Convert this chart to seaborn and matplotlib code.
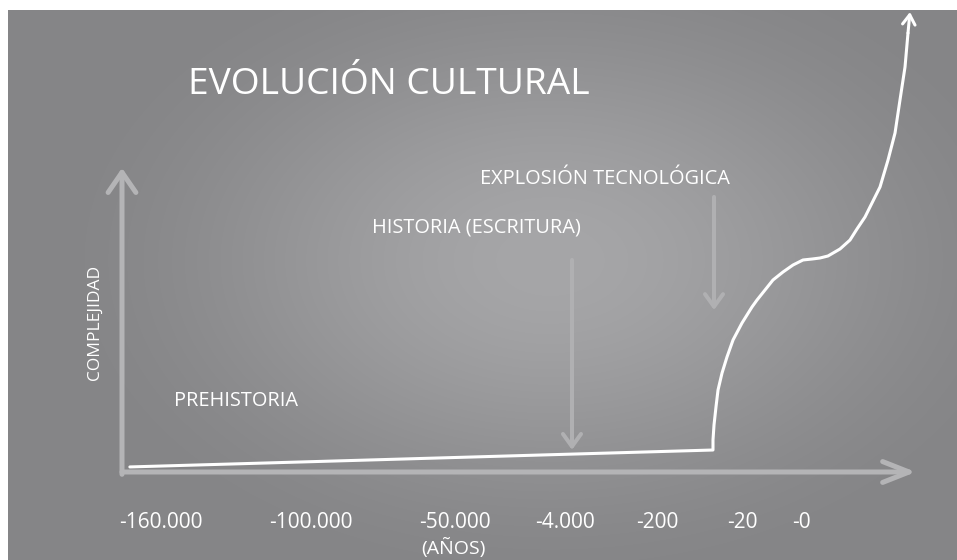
import numpy as np
import matplotlib
matplotlib.use("Agg")
import matplotlib.pyplot as plt
import seaborn as sns

# positions along the time axis (0-100 = arrow length) and labels
tick_pos = [4.96, 24.05, 42.37, 56.36, 68.07, 78.88, 86.39]
tick_labels = ["-160.000", "-100.000", "-50.000", "-4.000", "-200", "-20", "-0"]

# complexity curve (x: timeline, y: complexity 0-100)
curve_x = [1.0, 75.19, 75.19, 75.32, 75.57, 75.83, 76.34, 76.97, 77.74, 78.88,
           80.15, 80.79, 81.81, 82.82, 84.10, 85.37, 86.64, 87.79, 88.80,
           89.82, 91.35, 92.62, 93.51, 94.53, 95.42, 96.44, 97.46, 98.35,
           98.98, 99.62, 100.0]
curve_y = [1.1, 4.78, 6.96, 10.22, 14.13, 17.83, 21.52, 25.0, 28.7, 32.39,
           35.87, 37.39, 39.57, 41.74, 43.48, 45.0, 46.09, 46.30, 46.52,
           46.96, 48.48, 50.43, 52.83, 55.43, 58.48, 61.96, 67.83, 73.70,
           80.87, 88.04, 95.43]
curve_tip = (100.25, 100.0)

# event markers: label, arrow x, arrow start y, arrow end y
events = ["HISTORIA (ESCRITURA)", "EXPLOSIÓN TECNOLÓGICA"]
event_x = [57.25, 75.32]
event_top = [46.1, 59.8]
event_bottom = [4.8, 35.2]

y_axis_top = 66.1

sns.set_style("white")
plt.rcParams['font.family'] = ['Open Sans', 'DejaVu Sans']

W, H = 957, 560
fig = plt.figure(figsize=(W / 100, H / 100), dpi=100)
fig.patch.set_facecolor("white")

# gray radial background panel
ax_bg = fig.add_axes([8 / W, 0, (W - 8) / W, (H - 10) / H])
gx, gy = np.meshgrid(np.arange(8, W), np.arange(10, H))
t = np.sqrt(((gx - 550) / 520.0) ** 2 + ((gy - 260) / 340.0) ** 2)
t = np.clip(t, 0, 1)
t = t * t * (3 - 2 * t)
val = (166 - 33 * t) / 255.0
rgb = np.dstack([val, val, val + 2 / 255.0])
ax_bg.imshow(np.clip(rgb, 0, 1), aspect="auto", interpolation="bilinear")
ax_bg.axis("off")

ax = fig.add_axes([122 / W, (H - 472) / H, 786 / W, 460 / H])
ax.set_xlim(0, 100)
ax.set_ylim(0, 100)
ax.patch.set_alpha(0)
for s in ax.spines.values():
    s.set_visible(False)

axis_col = "#b4b4b6"
ax.annotate("", xy=(101, 0), xytext=(0, 0), annotation_clip=False,
            arrowprops=dict(arrowstyle="->,head_length=1.9,head_width=0.75",
                            lw=3.6, color=axis_col, shrinkA=0, shrinkB=0,
                            capstyle="round", joinstyle="round"))
ax.annotate("", xy=(0, y_axis_top), xytext=(0, -0.5), annotation_clip=False,
            arrowprops=dict(arrowstyle="->,head_length=1.45,head_width=1.0",
                            lw=3.6, color=axis_col, shrinkA=0, shrinkB=0,
                            capstyle="round", joinstyle="round"))

for ex, et, eb in zip(event_x, event_top, event_bottom):
    ax.annotate("", xy=(ex, eb), xytext=(ex, et),
                arrowprops=dict(arrowstyle="->,head_length=0.9,head_width=0.65",
                                lw=2.9, color="#b0b0b2", shrinkA=0, shrinkB=0))

sns.lineplot(x=curve_x, y=curve_y, sort=False, estimator=None, color="white",
             lw=2.2, ax=ax, clip_on=False, solid_joinstyle="round")
ax.annotate("", xy=curve_tip, xytext=(curve_x[-1], curve_y[-1]),
            annotation_clip=False,
            arrowprops=dict(arrowstyle="->,head_length=0.7,head_width=0.45",
                            lw=2.2, color="white", shrinkA=0, shrinkB=0))

ax.set_xticks(tick_pos, tick_labels)
ax.set_yticks([])
ax.tick_params(axis="x", length=0, pad=29, labelsize=15, labelcolor="white")

ax.text(8.4, 82.2, "EVOLUCIÓN CULTURAL", color="white", fontsize=26.7,
        ha="left", va="baseline", clip_on=False)
ax.text(45.55, 62.6, events[1], color="white", fontsize=14.4,
        ha="left", va="baseline")
ax.text(31.8, 52.0, events[0], color="white", fontsize=14.4,
        ha="left", va="baseline")
ax.text(6.6, 14.35, "PREHISTORIA", color="white", fontsize=14.4,
        ha="left", va="baseline")
ax.text(-3.4, 32.5, "COMPLEJIDAD", color="white", fontsize=12.5,
        rotation=90, ha="center", va="center")
ax.text(42.2, -17.9, "(AÑOS)", color="white", fontsize=14,
        ha="center", va="baseline", clip_on=False)

fig.savefig("out.png", dpi=100, facecolor="white")
